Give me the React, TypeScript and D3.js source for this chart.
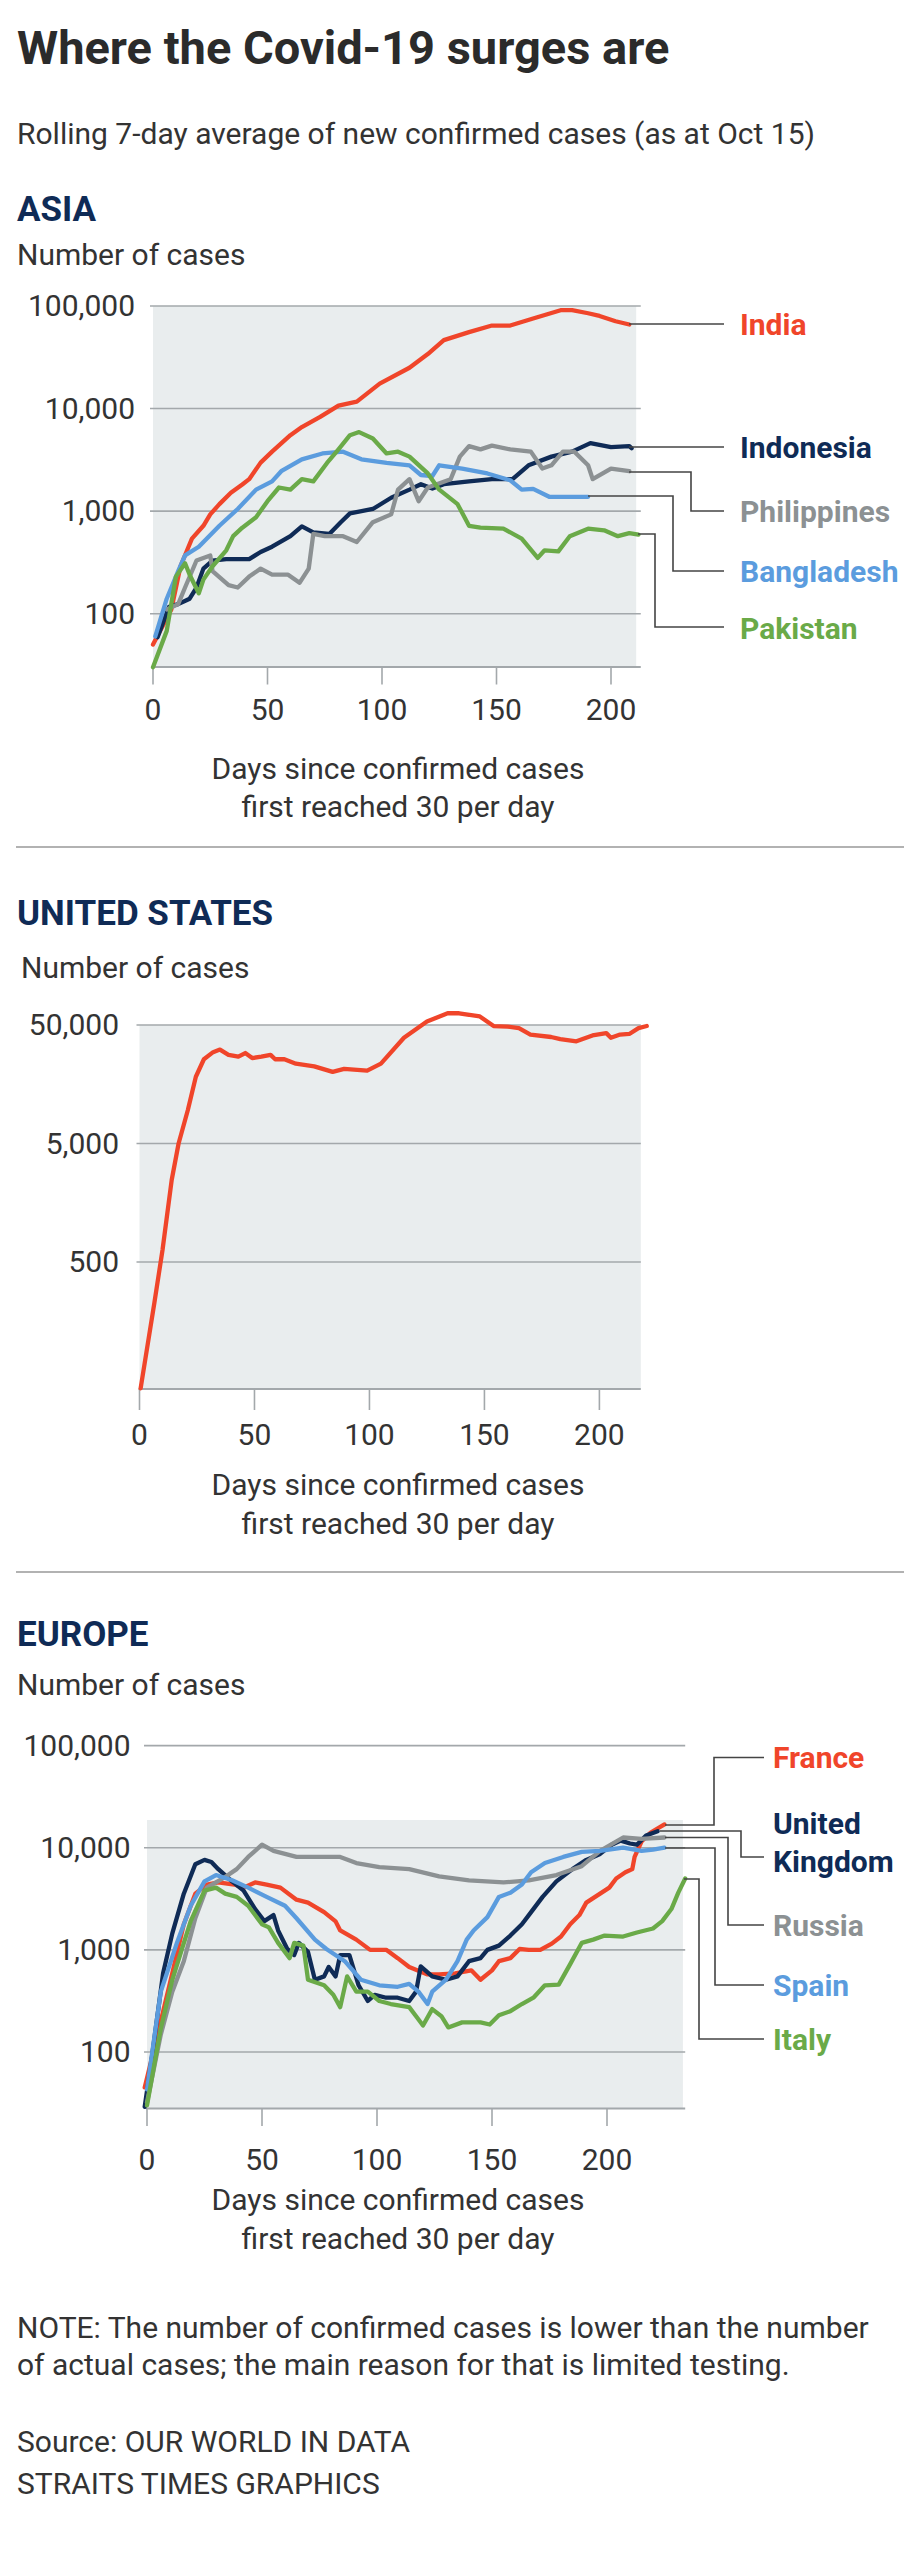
import React from "react";
import * as d3 from "d3";

// ---------- DATA (day since 30 cases/day, 7-day avg cases) ----------
const asiaIndia: [number, number][] = [[0,50],[8,110],[12,290],[17,540],[22,720],[25,930],[29,1170],[34,1510],[39,1820],[42,2050],[47,2970],[52,3800],[60,5500],[65,6600],[73,8300],[81,10700],[89,11700],[99,17500],[112,25000],[120,34000],[127,46500],[138,55600],[148,64500],[156,64500],[166,75500],[178,91000],[183,91000],[190,85000],[195,80000],[202,71000],[208,66000]];
const asiaIndonesia: [number, number][] = [[2,59],[7,117],[11,124],[16,140],[19,180],[22,275],[26,330],[32,340],[42,340],[47,400],[52,450],[60,570],[65,710],[70,620],[77,600],[82,780],[86,950],[96,1050],[104,1350],[112,1620],[117,1830],[122,1660],[127,1830],[138,1950],[148,2050],[157,2050],[164,2800],[174,3400],[183,3800],[191,4600],[200,4200],[208,4300],[209,4100]];
const asiaPhilippines: [number, number][] = [[6,110],[11,124],[14,180],[19,330],[25,370],[26,260],[33,190],[37,180],[42,230],[47,275],[52,240],[59,240],[64,200],[68,275],[70,600],[75,570],[83,570],[89,500],[96,780],[104,930],[107,1620],[112,2050],[116,1250],[120,1700],[130,2050],[134,3400],[138,4300],[143,4000],[148,4350],[156,4000],[165,3800],[170,2600],[174,2800],[179,3800],[184,3800],[190,2800],[192,2050],[200,2600],[208,2450]];
const asiaBangladesh: [number, number][] = [[1,60],[6,140],[11,260],[14,370],[20,450],[29,720],[37,1050],[45,1620],[52,1950],[56,2450],[65,3200],[74,3650],[83,3800],[91,3200],[102,2950],[112,2800],[117,2250],[122,2200],[125,2800],[135,2600],[146,2330],[156,2000],[161,1620],[166,1650],[173,1380],[190,1380]];
const asiaPakistan: [number, number][] = [[0,30],[6,68],[10,230],[14,310],[16,240],[20,158],[22,215],[26,290],[32,415],[35,570],[39,690],[45,870],[50,1250],[55,1700],[60,1620],[65,2050],[70,1950],[76,2950],[81,4000],[86,5500],[90,5900],[96,5100],[102,3650],[107,3800],[112,3400],[120,2330],[125,1620],[133,1170],[138,720],[143,690],[153,675],[161,540],[168,350],[171,415],[177,405],[182,570],[190,675],[197,650],[203,570],[208,610],[212,590]];

const usCases: [number, number][] = [[0.5,43],[6.5,228],[10,630],[14,2460],[17,5000],[21,9550],[24.5,18300],[28,25700],[32,29500],[35,31000],[38.7,28000],[43,27000],[46,29000],[49,26300],[53,27000],[57,28000],[59,25700],[63,25700],[68,23600],[76,22400],[84,20100],[89,21300],[99,20600],[105,23600],[115,39000],[125,53500],[134,62800],[139,62800],[148,59000],[154,49000],[160,48500],[165,47000],[170,41500],[179,39600],[183,38000],[190,36400],[197,40800],[203,42700],[205,39000],[209,41500],[213,42000],[217,47000],[220.6,49000]];

const euFrance: [number, number][] = [[-1,45],[4,130],[11,590],[16,1780],[21,3550],[26,4360],[31,4570],[38,4360],[42,4070],[47,4570],[52,4360],[58,4070],[65,3100],[70,2900],[77,2340],[82,1900],[84,1550],[91,1260],[97,1000],[104,1000],[109,830],[114,680],[122,575],[127,575],[134,590],[141,630],[145,510],[150,630],[153,775],[158,830],[162,1020],[166,1000],[171,1000],[176,1150],[180,1350],[184,1780],[188,2190],[191,2900],[197,3550],[201,4070],[204,5000],[208,5750],[211,6170],[212,8130],[215,11500],[219,14100],[225,16900]];
const euUK: [number, number][] = [[-1,29],[2,85],[7,590],[11,1450],[16,3550],[21,6900],[25,7600],[28,7250],[31,6170],[37,4680],[42,3800],[47,2510],[51,1910],[55,2190],[57,1550],[61,1020],[64,890],[66,1170],[70,955],[73,510],[77,550],[79,680],[82,550],[84,890],[88,890],[92,450],[96,316],[99,363],[104,340],[109,340],[114,316],[117,390],[119,690],[124,550],[130,510],[135,550],[140,775],[145,830],[148,1000],[153,1100],[158,1380],[163,1780],[167,2340],[172,3300],[178,4680],[185,6170],[191,7600],[197,8700],[202,10700],[206,11750],[210,11000],[213,10700],[217,13200],[222,14500]];
const euRussia: [number, number][] = [[0,32],[6,148],[11,390],[16,775],[21,2040],[26,4070],[33,5000],[39,6170],[44,8130],[50,10700],[55,9300],[65,8130],[84,8130],[91,7080],[101,6450],[114,6170],[127,5250],[140,4800],[155,4570],[166,4800],[178,5400],[189,6600],[197,9300],[207,12600],[215,12200],[225,12600]];
const euSpain: [number, number][] = [[0,43],[6,390],[13,1170],[19,2700],[25,4680],[30,5400],[37,4800],[44,4070],[52,3300],[60,2700],[65,2040],[73,1260],[78,1020],[86,775],[93,510],[101,450],[109,435],[114,465],[118,390],[122,295],[124,390],[130,510],[135,775],[139,1260],[142,1550],[148,2090],[153,3300],[158,3630],[163,4360],[167,5750],[173,7080],[181,8130],[189,9100],[197,9300],[207,10000],[215,9300],[220,9600],[225,10000]];
const euItaly: [number, number][] = [[0,30],[6,170],[11,510],[19,1910],[25,3800],[30,4070],[34,3550],[39,3300],[44,2700],[50,1780],[53,1660],[57,1170],[62,830],[64,1170],[68,1100],[70,510],[77,450],[81,363],[84,275],[87,550],[91,390],[96,390],[101,316],[106,295],[114,275],[117,224],[120,182],[124,263],[128,224],[131,174],[137,195],[145,195],[149,186],[153,229],[158,251],[163,295],[168,340],[173,450],[179,457],[184,725],[189,1170],[194,1260],[199,1380],[207,1350],[213,1480],[220,1620],[224,1910],[228,2510],[231,3630],[234,5000]];

const xTicks = [0, 50, 100, 150, 200];
const asiaYTicks = [100, 1000, 10000, 100000];
const usYTicks = [500, 5000, 50000];
const euYTicks = [100, 1000, 10000, 100000];

const RED = "#f0452a", NAVY = "#0f2b56", GRAY = "#8c9193", BLUE = "#5b9cde", GREEN = "#6aaa48";
const TEXT = "#333";
const FONT = "Roboto, 'Noto Sans', sans-serif";
const FS = 30;

type Series = { name: string[]; color: string; data: [number, number][]; path: [number, number][] };

function Chart(props: {
  x0: number; x200: number; xMaxDay: number; fillMaxDay: number;
  yTop: number; vTop: number; yRef: number; vRef: number; yBottom: number;
  fillTop: number; yTicks: number[]; tickRight: number; xLabelY: number; tickLen: number;
  series: Series[]; labelX: number; labelYs: number[][];
}) {
  const p = props;
  const x = d3.scaleLinear().domain([0, 200]).range([p.x0, p.x200]);
  const y = d3.scaleLog().domain([p.vRef, p.vTop]).range([p.yRef, p.yTop]);
  const line = d3.line<[number, number]>().x(d => x(d[0])).y(d => y(d[1])).curve(d3.curveLinear);
  const right = x(p.xMaxDay);
  return (
    <g>
      <rect x={x(0)} y={p.fillTop} width={x(p.fillMaxDay) - x(0)} height={p.yBottom - p.fillTop} fill="#e9edee" />
      {p.yTicks.map(t => (
        <g key={t}>
          <line x1={x(0) - 3} x2={right} y1={y(t)} y2={y(t)} stroke="#a3a8ab" strokeWidth={1.6} />
          <text x={p.tickRight} y={y(t) + 10} textAnchor="end" fontSize={FS} fill={TEXT} fontFamily={FONT}>{d3.format(",")(t)}</text>
        </g>
      ))}
      <line x1={x(0) - 1} x2={right} y1={p.yBottom} y2={p.yBottom} stroke="#a3a8ab" strokeWidth={2} />
      {xTicks.map(t => (
        <g key={t}>
          <line x1={x(t)} x2={x(t)} y1={p.yBottom} y2={p.yBottom + p.tickLen} stroke="#a3a8ab" strokeWidth={1.6} />
          <text x={x(t)} y={p.xLabelY} textAnchor="middle" fontSize={FS} fill={TEXT} fontFamily={FONT}>{t}</text>
        </g>
      ))}
      {p.series.map((s, i) => (
        <path key={"l" + i} d={line(s.data) || ""} fill="none" stroke={s.color} strokeWidth={4.3} strokeLinejoin="round" strokeLinecap="round" />
      ))}
      {p.series.map((s, i) => (
        <g key={"n" + i}>
          <polyline points={s.path.map(q => q.join(",")).join(" ")} fill="none" stroke="#444" strokeWidth={1.6} />
          {s.name.map((n, j) => (
            <text key={j} x={p.labelX} y={p.labelYs[i][j]} fontSize={30} fontWeight={700} fill={s.color} fontFamily={FONT}>{n}</text>
          ))}
        </g>
      ))}
    </g>
  );
}

const T = (props: { x: number; y: number; children: React.ReactNode; anchor?: string; size?: number }) => (
  <text x={props.x} y={props.y} textAnchor={props.anchor || "start"} fontSize={props.size || FS} fill={TEXT} fontFamily={FONT}>{props.children}</text>
);

export default function App() {
  return (
    <svg width={920} height={2568} style={{ position: "absolute", left: 0, top: 0, background: "#fff" }}>
      <text x={17} y={64} fontSize={47} fontWeight={700} fill="#2b2b2b" fontFamily={FONT}>Where the Covid-19 surges are</text>
      <T x={17} y={144}>Rolling 7-day average of new confirmed cases (as at Oct 15)</T>

      <text x={17} y={221} fontSize={35} fontWeight={700} fill={NAVY} fontFamily={FONT}>ASIA</text>
      <T x={17} y={265}>Number of cases</T>
      <Chart x0={153} x200={611} xMaxDay={213} fillMaxDay={211} yTop={306} vTop={100000} yRef={613.7} vRef={100} yBottom={667}
        fillTop={306} yTicks={asiaYTicks} tickRight={135} xLabelY={720} tickLen={17.5} labelX={740}
        series={[
          { name: ["India"], color: RED, data: asiaIndia, path: [[629, 324], [724, 324]] },
          { name: ["Indonesia"], color: NAVY, data: asiaIndonesia, path: [[629, 447], [724, 447]] },
          { name: ["Philippines"], color: GRAY, data: asiaPhilippines, path: [[629, 472], [691, 472], [691, 511], [724, 511]] },
          { name: ["Bangladesh"], color: BLUE, data: asiaBangladesh, path: [[588, 496], [673, 496], [673, 571], [724, 571]] },
          { name: ["Pakistan"], color: GREEN, data: asiaPakistan, path: [[638, 534], [655, 534], [655, 627], [724, 627]] },
        ]}
        labelYs={[[335], [458], [522], [582], [639]]}
      />
      <T x={398} y={779} anchor="middle">Days since confirmed cases</T>
      <T x={398} y={817} anchor="middle">first reached 30 per day</T>
      <line x1={16} x2={904} y1={847} y2={847} stroke="#999" strokeWidth={1.6} />

      <text x={17} y={925} fontSize={35} fontWeight={700} fill={NAVY} fontFamily={FONT}>UNITED STATES</text>
      <T x={21} y={978}>Number of cases</T>
      <Chart x0={139.5} x200={599.4} xMaxDay={218} fillMaxDay={218} yTop={1025} vTop={50000} yRef={1262} vRef={500} yBottom={1389}
        fillTop={1025} yTicks={usYTicks} tickRight={119} xLabelY={1445} tickLen={21} labelX={760}
        series={[{ name: [], color: RED, data: usCases, path: [] }]}
        labelYs={[[]]}
      />
      <T x={398} y={1495} anchor="middle">Days since confirmed cases</T>
      <T x={398} y={1534} anchor="middle">first reached 30 per day</T>
      <line x1={16} x2={904} y1={1572} y2={1572} stroke="#999" strokeWidth={1.6} />

      <text x={17} y={1646} fontSize={35} fontWeight={700} fill={NAVY} fontFamily={FONT}>EUROPE</text>
      <T x={17} y={1695}>Number of cases</T>
      <Chart x0={147} x200={607} xMaxDay={234} fillMaxDay={233} yTop={1745.6} vTop={100000} yRef={2052} vRef={100} yBottom={2108.6}
        fillTop={1820} yTicks={euYTicks} tickRight={130.5} xLabelY={2170} tickLen={17.5} labelX={773}
        series={[
          { name: ["France"], color: RED, data: euFrance, path: [[665, 1825], [714, 1825], [714, 1757.5], [764, 1757.5]] },
          { name: ["United", "Kingdom"], color: NAVY, data: euUK, path: [[660, 1831], [741, 1831], [741, 1857], [764, 1857]] },
          { name: ["Russia"], color: GRAY, data: euRussia, path: [[665, 1837.5], [728, 1837.5], [728, 1925], [764, 1925]] },
          { name: ["Spain"], color: BLUE, data: euSpain, path: [[665, 1848], [715, 1848], [715, 1985], [764, 1985]] },
          { name: ["Italy"], color: GREEN, data: euItaly, path: [[684, 1879], [699, 1879], [699, 2039], [764, 2039]] },
        ]}
        labelYs={[[1768], [1834, 1872], [1936], [1996], [2050]]}
      />
      <T x={398} y={2210} anchor="middle">Days since confirmed cases</T>
      <T x={398} y={2249} anchor="middle">first reached 30 per day</T>

      <T x={17} y={2338} size={30}>NOTE: The number of confirmed cases is lower than the number</T>
      <T x={17} y={2375} size={30}>of actual cases; the main reason for that is limited testing.</T>
      <T x={17} y={2452} size={30}>Source: OUR WORLD IN DATA</T>
      <T x={17} y={2494} size={30}>STRAITS TIMES GRAPHICS</T>
    </svg>
  );
}
